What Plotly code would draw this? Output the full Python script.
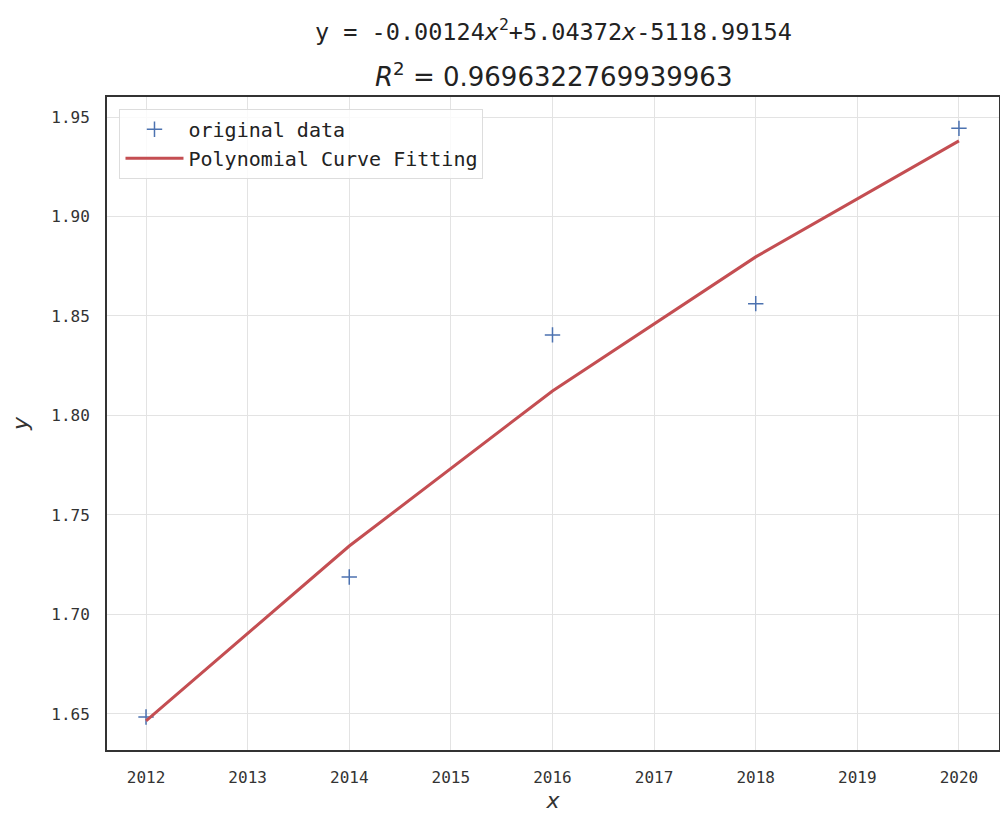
import plotly.graph_objects as go

# data
years = [2012, 2014, 2016, 2018, 2020]
original_y = [1.6485, 1.7188, 1.8405, 1.8562, 1.9443]
fitted_y = [1.6465, 1.7344, 1.8123, 1.8797, 1.9380]
x_ticks = [2012, 2013, 2014, 2015, 2016, 2017, 2018, 2019, 2020]
y_ticks = [1.65, 1.70, 1.75, 1.80, 1.85, 1.90, 1.95]

mono = "DejaVu Sans Mono"

fig = go.Figure()
fig.add_trace(go.Scatter(
    x=years, y=original_y, mode="markers", name="original data",
    marker=dict(symbol="cross-thin", size=11, line=dict(width=1.5, color="#4c72b0"), color="#4c72b0"),
))
fig.add_trace(go.Scatter(
    x=years, y=fitted_y, mode="lines", name="Polynomial Curve Fitting",
    line=dict(color="#c44e52", width=3),
))

# two-line title as annotations
fig.add_annotation(
    text="y = -0.00124<i>x</i><sup>2</sup>+5.04372<i>x</i>-5118.99154",
    x=0.5, y=1, xref="paper", yref="paper", yanchor="middle", yshift=67, showarrow=False,
    font=dict(family=mono, size=23.5, color="#222"),
)
fig.add_annotation(
    text="<i>R</i><sup>2</sup> = 0.9696322769939963",
    x=0.5, y=1, xref="paper", yref="paper", yanchor="middle", yshift=22, showarrow=False,
    font=dict(family="DejaVu Sans", size=26, color="#222"),
)

# the page body adds an 8px margin, so the figure is 8px smaller
fig.update_layout(
    width=1000, height=806,
    margin=dict(l=99, r=9, t=89, b=64),
    plot_bgcolor="white", paper_bgcolor="white",
    font=dict(family=mono, size=16, color="#333"),
    showlegend=True,
    legend=dict(
        x=0.014, y=0.982, xanchor="left", yanchor="top",
        bgcolor="rgba(255,255,255,0.8)", bordercolor="#dddddd", borderwidth=1,
        font=dict(family=mono, size=20, color="#222"), itemwidth=58,
    ),
    xaxis=dict(
        range=[2011.616, 2020.394], tickvals=x_ticks, ticks="", automargin=False,
        ticklabelstandoff=12,
        showgrid=True, gridcolor="#e3e3e3", gridwidth=1,
        showline=True, linecolor="#333", linewidth=2, mirror=True,
        zeroline=False, title=dict(text="<i>x</i>", font=dict(family="DejaVu Sans", size=22), standoff=6),
    ),
    yaxis=dict(
        range=[1.6319, 1.96005], tickvals=y_ticks, tickformat=".2f", ticks="", automargin=False,
        ticklabelstandoff=12,
        showgrid=True, gridcolor="#e3e3e3", gridwidth=1,
        showline=True, linecolor="#333", linewidth=2, mirror=True,
        zeroline=False, title=dict(text="<i>y</i>", font=dict(family="DejaVu Sans", size=22), standoff=18),
    ),
)

fig.write_html("out.html")
